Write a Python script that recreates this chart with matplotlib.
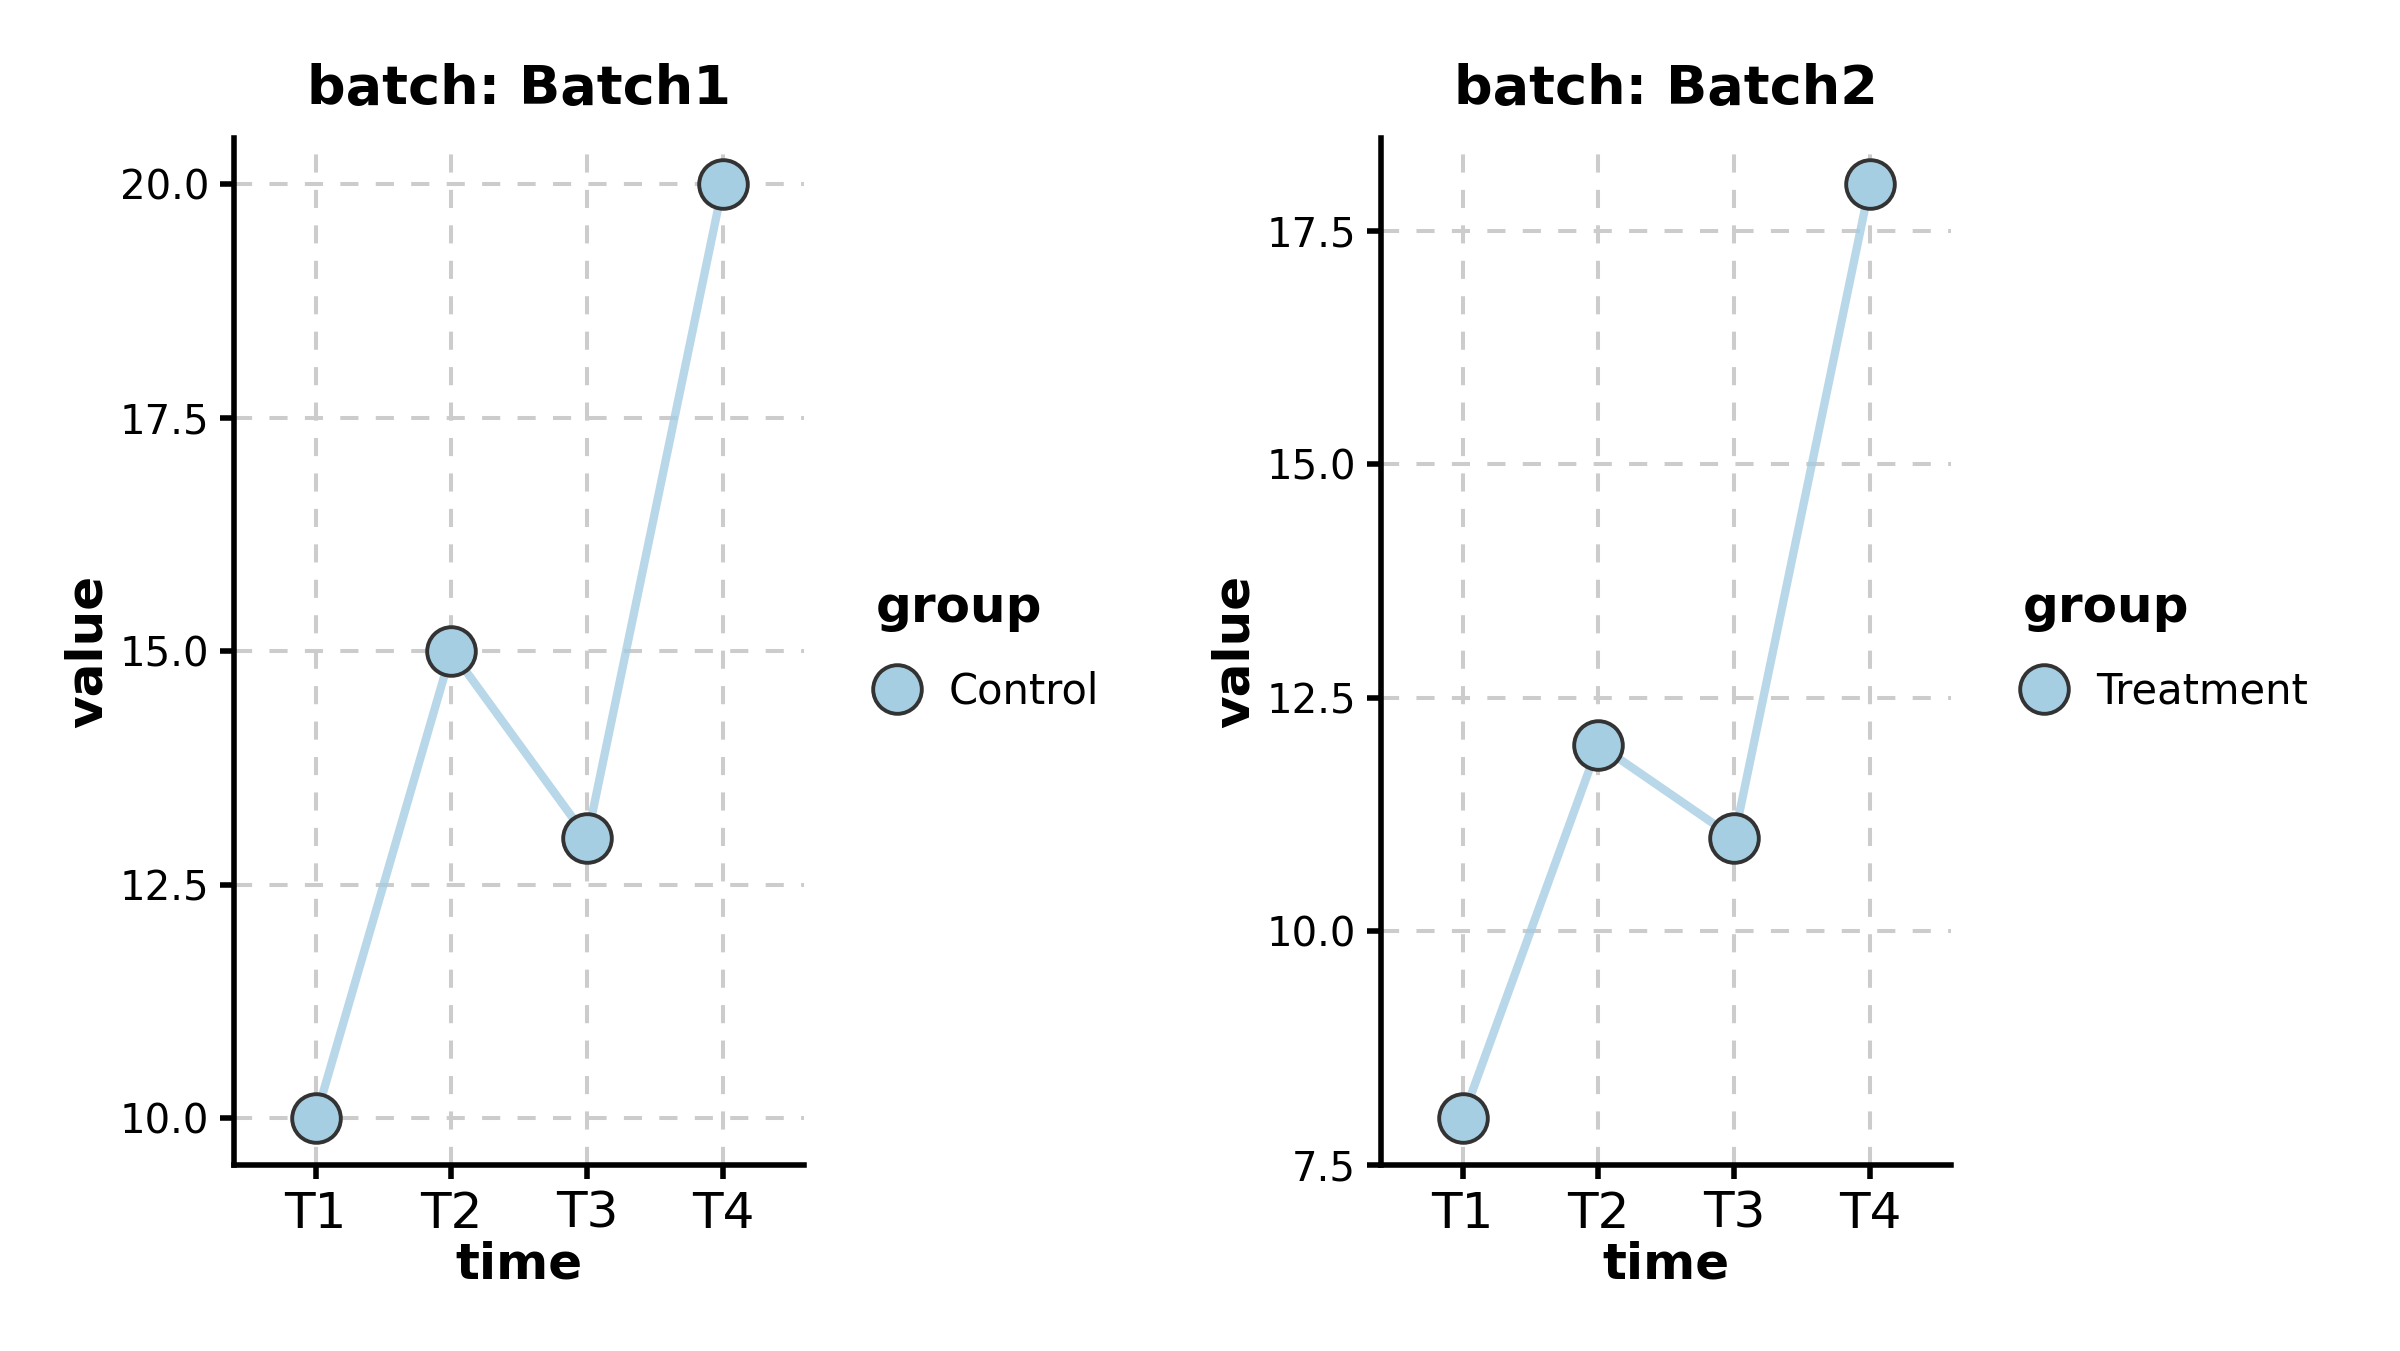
import matplotlib
matplotlib.use('Agg')
import matplotlib.pyplot as plt
from matplotlib.lines import Line2D

# data
times = ['T1', 'T2', 'T3', 'T4']
batches = ['Batch1', 'Batch2']
groups = ['Control', 'Treatment']
values_batch1 = [10, 15, 13, 20]
values_batch2 = [8, 12, 11, 18]
yticks_batch1 = [10.0, 12.5, 15.0, 17.5, 20.0]
yticks_batch2 = [7.5, 10.0, 12.5, 15.0, 17.5]
ylims = [(9.5, 20.5), (7.5, 18.5)]

point_color = '#a6cee3'
edge_color = '#333333'

fig = plt.figure(figsize=(12, 6.755), dpi=200)
axes = [fig.add_axes([0.0976, 0.138, 0.2376, 0.760]),
        fig.add_axes([0.5755, 0.138, 0.2376, 0.760])]

series = [values_batch1, values_batch2]
yticks = [yticks_batch1, yticks_batch2]

for ax, batch, grp, vals, yt, yl in zip(axes, batches, groups, series, yticks, ylims):
    x = list(range(len(times)))
    ax.plot(x, vals, color=point_color, alpha=0.8, linewidth=3, zorder=2)
    ax.plot(x, vals, linestyle='none', marker='o', markersize=17.5,
            markerfacecolor=point_color, markeredgecolor=edge_color,
            markeredgewidth=1.4, zorder=3)
    ax.set_xlim(-0.6, 3.6)
    ax.set_ylim(*yl)
    ax.set_xticks(x)
    ax.set_xticklabels(times, fontsize=18)
    ax.set_yticks(yt)
    ax.set_yticklabels([f'{v:.1f}' for v in yt], fontsize=14.5)
    ax.grid(True, linestyle=(0, (4.5, 4.3)), color='#cccccc', linewidth=1.45)
    ax.set_axisbelow(True)
    for side in ['top', 'right']:
        ax.spines[side].set_visible(False)
    for side in ['left', 'bottom']:
        ax.spines[side].set_linewidth(2)
        ax.spines[side].set_color('black')
    ax.tick_params(axis='both', length=5, width=2, color='black', pad=4)
    ax.set_xlabel('time', fontsize=18, fontweight='bold', labelpad=1)
    ax.set_ylabel('value', fontsize=18, fontweight='bold', labelpad=3)
    ax.set_title(f'batch: {batch}', fontsize=19.5, fontweight='bold', pad=12)

    handle = Line2D([], [], linestyle='none', marker='o', markersize=17.5,
                    markerfacecolor=point_color, markeredgecolor=edge_color,
                    markeredgewidth=1.4)
    leg = ax.legend([handle], [grp], title='group', loc='center left',
                    bbox_to_anchor=(1.06, 0.503), frameon=False, fontsize=15,
                    title_fontproperties={'weight': 'bold', 'size': 18},
                    handlelength=1.0, handletextpad=0.75, labelspacing=0.8)
    leg._legend_box.align = 'left'
    leg._legend_box.sep = 14

fig.savefig('out.png', dpi=200, facecolor='white')
